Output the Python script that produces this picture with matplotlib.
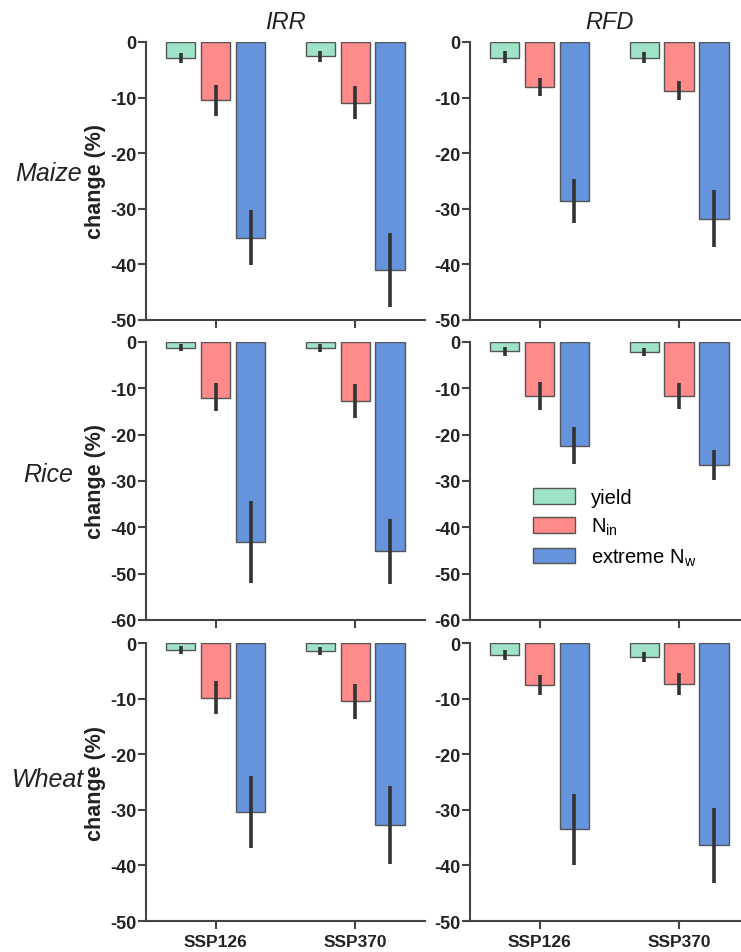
"""
Yield / N change bar panels
"""
import numpy as np
import matplotlib
matplotlib.use("Agg")
import matplotlib.pyplot as plt
from matplotlib.patches import Patch

plt.rcParams['font.family'] = ['Liberation Sans', 'DejaVu Sans']
plt.rcParams['axes.unicode_minus'] = False

scenarios = ['SSP126', 'SSP370']
crops = ['Maize', 'Rice', 'Wheat']
systems = ['IRR', 'RFD']
series = ['yield', 'N$_{\\mathregular{in}}$', 'extreme N$_{\\mathregular{w}}$']
colors = ['#9ee3c8', '#ff8a8a', '#6593dc']

# mean change (%) per [crop][system] -> [series][scenario]
maize_irr = [[-2.9, -2.6], [-10.5, -11.0], [-35.2, -41.0]]
maize_rfd = [[-2.8, -2.9], [-8.1, -8.9], [-28.6, -31.8]]
rice_irr = [[-1.2, -1.3], [-12.0, -12.8], [-43.2, -45.1]]
rice_rfd = [[-1.9, -2.2], [-11.7, -11.7], [-22.4, -26.5]]
wheat_irr = [[-1.3, -1.4], [-9.9, -10.5], [-30.4, -32.8]]
wheat_rfd = [[-2.2, -2.5], [-7.5, -7.4], [-33.4, -36.4]]

# confidence interval bounds (upper end, lower end)
maize_irr_ci = [[(-1.9, -3.7), (-1.7, -3.6)], [(-7.8, -13.3), (-7.9, -13.9)], [(-30.2, -40.2), (-34.4, -47.7)]]
maize_rfd_ci = [[(-1.7, -3.7), (-1.8, -3.8)], [(-6.4, -9.8), (-7.1, -10.5)], [(-24.7, -32.6), (-26.7, -36.8)]]
rice_irr_ci = [[(-0.4, -2.0), (-0.4, -2.2)], [(-8.8, -14.9), (-9.1, -16.4)], [(-34.4, -52.0), (-38.1, -52.2)]]
rice_rfd_ci = [[(-1.1, -3.0), (-1.4, -3.0)], [(-8.6, -14.7), (-8.8, -14.5)], [(-18.4, -26.3), (-23.4, -29.7)]]
wheat_irr_ci = [[(-0.6, -2.0), (-0.7, -2.1)], [(-6.9, -12.8), (-7.4, -13.7)], [(-23.9, -36.9), (-25.7, -39.7)]]
wheat_rfd_ci = [[(-1.3, -3.1), (-1.6, -3.4)], [(-5.7, -9.3), (-5.4, -9.3)], [(-27.1, -39.9), (-29.7, -43.2)]]

values = [[maize_irr, maize_rfd], [rice_irr, rice_rfd], [wheat_irr, wheat_rfd]]
cis = [[maize_irr_ci, maize_rfd_ci], [rice_irr_ci, rice_rfd_ci], [wheat_irr_ci, wheat_rfd_ci]]
ylows = [-50, -60, -50]

fig = plt.figure(figsize=(7.41, 9.53), dpi=100)

lefts = [0.197, 0.634]
bottoms = [0.6632, 0.3484, 0.0325]
w, h = 0.3765, 0.2917
label_y = [0.53, 0.525, 0.51]

ind = np.arange(len(scenarios))
width = 0.21
offsets = [-0.25, 0, 0.25]
spine_c = '#444444'

for r in range(3):
    for c in range(2):
        ax = fig.add_axes([lefts[c], bottoms[r], w, h])
        for k in range(3):
            v = np.array(values[r][c][k])
            ci = np.array(cis[r][c][k])
            yerr = np.vstack([v - ci[:, 1], ci[:, 0] - v])
            ax.bar(ind + offsets[k], v, width, color=colors[k],
                   edgecolor='#555555', linewidth=1.0, zorder=2)
            ax.errorbar(ind + offsets[k], v, yerr=yerr, fmt='none',
                        ecolor='#333333', elinewidth=2.6, capsize=0, zorder=3)
        ax.set_xlim(-0.5, 1.5)
        ax.set_ylim(ylows[r], 0)
        ax.set_yticks(np.arange(ylows[r], 1, 10))
        ax.set_xticks(ind)
        if r == 2:
            ax.set_xticklabels(scenarios, fontsize=12.5, fontweight='bold')
        else:
            ax.set_xticklabels([])
        for lab in ax.get_yticklabels():
            lab.set_fontweight('bold')
            lab.set_fontsize(13)
        ax.tick_params(axis='both', direction='out', length=6, width=1.5,
                       color=spine_c, labelcolor='#222222')
        ax.tick_params(axis='y', pad=1)
        ax.spines['top'].set_visible(False)
        ax.spines['right'].set_visible(False)
        for s in ['left', 'bottom']:
            ax.spines[s].set_color(spine_c)
            ax.spines[s].set_linewidth(1.5)
        if c == 0:
            ax.set_ylabel('change (%)', fontsize=15.5, fontweight='bold',
                          color='#222222', labelpad=3)
            ax.text(-0.351, label_y[r], crops[r], transform=ax.transAxes,
                    fontsize=18, style='italic', color='#222222',
                    ha='center', va='center')
        if r == 0:
            ax.set_title(systems[c], fontsize=17, style='italic',
                         color='#222222', pad=10)
        if r == 1 and c == 1:
            handles = [Patch(facecolor=colors[k], edgecolor='#555555')
                       for k in range(3)]
            ax.legend(handles, series, loc='upper left',
                      bbox_to_anchor=(0.226, 0.475), frameon=False,
                      borderaxespad=0, borderpad=0,
                      fontsize=14.5, handlelength=2.1, handleheight=0.8,
                      labelspacing=0.45, handletextpad=0.8)

fig.savefig('out.png', dpi=100)
